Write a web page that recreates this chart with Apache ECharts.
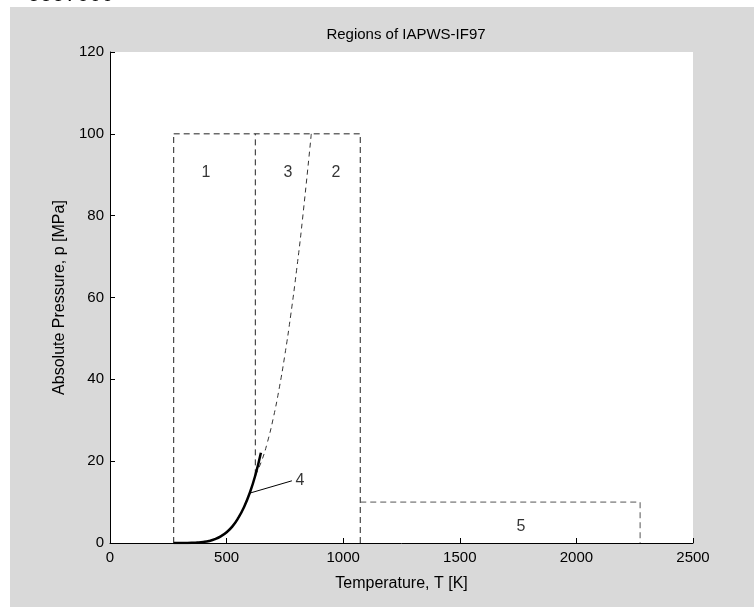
<!DOCTYPE html>
<html>
<head>
<meta charset="utf-8">
<script src="https://cdn.jsdelivr.net/npm/echarts@6/dist/echarts.min.js"></script>
<style>
html,body{margin:0;padding:0;background:#ffffff;}
#c{width:754px;height:607px;}
</style>
</head>
<body>
<div id="c"></div>
<script>
// ---- data ----
var xTicks = [0, 500, 1000, 1500, 2000, 2500];
var yTicks = [0, 20, 40, 60, 80, 100, 120];

// saturation line (region 4)
var satT = [273.15, 300, 325, 350, 375, 400, 425, 450, 475, 500, 525, 550, 575, 600, 623.15, 647.1];
var satP = [0.0006, 0.0035, 0.0134, 0.0417, 0.108, 0.246, 0.500, 0.932, 1.62, 2.64, 4.07, 6.12, 8.82, 12.34, 16.53, 22.06];

// B23 boundary (regions 2/3)
var b23T = [623.15, 650, 675, 700, 725, 750, 775, 800, 825, 863.15];
var b23P = [16.53, 20.03, 24.62, 30.48, 37.61, 46.02, 55.70, 66.65, 78.88, 100];

// region outlines
var r1LeftT = [273.15, 273.15];
var r1LeftP = [0, 100];
var topT = [273.15, 1073.15];
var topP = [100, 100];
var r13T = [623.15, 623.15];
var r13P = [16.53, 100];
var r2RightT = [1073.15, 1073.15];
var r2RightP = [0, 100];
var r5T = [1073.15, 2273.15, 2273.15];
var r5P = [10, 10, 0];

// region labels
var labelNames = ['1', '3', '2', '5'];
var labelT = [411, 763, 969, 1762];
var labelP = [90.5, 90.5, 90.5, 3.9];

// region 4 label with leader
var leaderT = [600, 780];
var leaderP = [12.2, 15.2];
var label4T = 815;
var label4P = 15.2;

function pairs(xs, ys) { return xs.map(function (x, i) { return [x, ys[i]]; }); }

var dashStyle = { color: '#222', width: 1, type: [6, 4] };
function dashed(name, xs, ys, style) {
  return { name: name, type: 'line', data: pairs(xs, ys), symbol: 'none', silent: true,
    lineStyle: style || dashStyle, z: 2 };
}

var chart = echarts.init(document.getElementById('c'), null, { renderer: 'canvas' });
var font = 'Liberation Sans, Arial, sans-serif';
chart.setOption({
  animation: false,
  backgroundColor: '#ffffff',
  graphic: [
    { type: 'rect', left: 10, top: 7, shape: { width: 744, height: 600 }, style: { fill: '#d9d9d9' }, z: -10 },
    { type: 'rect', left: 110, top: 52, shape: { width: 583, height: 491 }, style: { fill: '#ffffff' }, z: -9 },
    { type: 'text', left: 28, top: -16, style: { text: '5557000', font: '22px ' + font, fill: '#000' }, z: -11 }
  ],
  title: {
    text: 'Regions of IAPWS-IF97',
    left: 401, top: 22, textAlign: 'center',
    textStyle: { fontFamily: font, fontSize: 15, fontWeight: 'normal', color: '#000' }
  },
  grid: { left: 110, right: 61, top: 52, bottom: 64 },
  xAxis: {
    type: 'value', min: xTicks[0], max: xTicks[xTicks.length - 1], interval: 500,
    name: 'Temperature, T [K]', nameLocation: 'middle', nameGap: 33,
    nameTextStyle: { fontFamily: font, fontSize: 16, color: '#000' },
    axisLine: { lineStyle: { color: '#000', width: 1 } },
    axisTick: { inside: true, length: 5, lineStyle: { color: '#000' } },
    axisLabel: { fontFamily: font, fontSize: 15, color: '#000', margin: 7,
      formatter: function (v) { return String(v); } },
    splitLine: { show: false }
  },
  yAxis: {
    type: 'value', min: yTicks[0], max: yTicks[yTicks.length - 1], interval: 20,
    name: 'Absolute Pressure, p [MPa]', nameLocation: 'middle', nameGap: 42,
    nameTextStyle: { fontFamily: font, fontSize: 16, color: '#000' },
    axisLine: { show: true, lineStyle: { color: '#000', width: 1 } },
    axisTick: { show: true, inside: true, length: 5, lineStyle: { color: '#000' } },
    axisLabel: { fontFamily: font, fontSize: 15, color: '#000', margin: 6,
      formatter: function (v) { return String(v); } },
    splitLine: { show: false }
  },
  series: [
    dashed('r1left', r1LeftT, r1LeftP),
    dashed('top', topT, topP),
    dashed('r13', r13T, r13P),
    dashed('r2right', r2RightT, r2RightP),
    dashed('r5', r5T, r5P, { color: '#555', width: 1, type: [6, 4] }),
    { name: 'b23', type: 'line', data: pairs(b23T, b23P), symbol: 'none', smooth: true, silent: true,
      lineStyle: { color: '#333', width: 1, type: [5, 4] }, z: 2 },
    { name: 'sat', type: 'line', data: pairs(satT, satP), symbol: 'none', smooth: true, silent: true,
      lineStyle: { color: '#000', width: 2.5 }, z: 3 },
    { name: 'leader', type: 'line', data: pairs(leaderT, leaderP), symbol: 'none', silent: true,
      lineStyle: { color: '#000', width: 1 }, z: 3 },
    { name: 'labels', type: 'scatter', symbolSize: 0, silent: true,
      data: labelNames.map(function (n, i) { return { value: [labelT[i], labelP[i]], name: n }; }),
      label: { show: true, position: 'inside', formatter: '{b}', fontFamily: font, fontSize: 16, color: '#000' } },
    { name: 'label4', type: 'scatter', symbolSize: 0, silent: true,
      data: [{ value: [label4T, label4P], name: '4' }],
      label: { show: true, position: 'inside', formatter: '{b}', fontFamily: font, fontSize: 16, color: '#000' } }
  ]
});
</script>
</body>
</html>
